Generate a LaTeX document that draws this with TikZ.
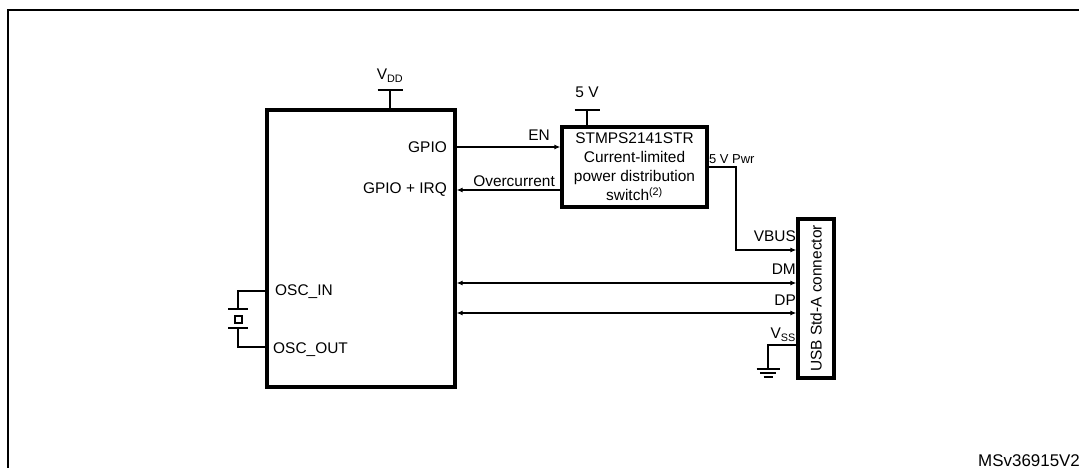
\documentclass[tikz,border=0pt]{standalone}
\usepackage{fontspec}
\setmainfont{Liberation Sans}
\usetikzlibrary{arrows.meta}
\begin{document}
\begin{tikzpicture}[x=1bp,y=-1bp,
  box/.style={draw, line width=3.2bp, inner sep=0pt},
  wire/.style={line width=1.4bp},
  arr/.style={wire,-{Latex[length=6bp,width=5bp]}},
  darr/.style={wire,{Latex[length=6bp,width=5bp]}-{Latex[length=6bp,width=5bp]}},
  lbl/.style={inner sep=0pt, font=\fontsize{15.5}{19}\selectfont},
  smalllbl/.style={inner sep=0pt, font=\fontsize{13}{15}\selectfont}]
\useasboundingbox (0,0) rectangle (1079,468);
\clip (0,0) rectangle (1079,468);
% frame
\draw[line width=2.4bp] (8,10) rectangle (1100,500);
% blocks
\node[box, minimum width=188bp, minimum height=277bp] (mcu) at (361,248.5) {};
\node[box, lbl, minimum width=145bp, minimum height=80bp, align=center] (sw) at (634.5,167)
  {STMPS2141STR\\Current-limited\\power distribution\\switch\textsuperscript{(2)}};
\node[box, minimum width=36bp, minimum height=159bp] (usb) at (816,298.5) {};
\node[lbl, rotate=90] (usbl) at (usb.center) {USB Std-A connector};
% row coordinates
\coordinate (yen) at (0,147);
\coordinate (yoc) at (0,190);
\coordinate (ypwr) at (0,167);
\coordinate (ybus) at (0,250);
\coordinate (ydm) at (0,283);
\coordinate (ydp) at (0,313);
\coordinate (yss) at (0,345);
\coordinate (yosi) at (0,291);
\coordinate (yoso) at (0,347);
% VDD supply
\coordinate (vddtop) at (390,90);
\draw[wire] (vddtop |- mcu.north) -- (vddtop);
\draw[wire] ([xshift=-12.5bp]vddtop) -- ([xshift=12.5bp]vddtop);
\node[lbl, anchor=base] (vdd) at (390,80) {V\textsubscript{DD}};
% 5 V supply
\coordinate (fvtop) at (587,110);
\draw[wire] (fvtop |- sw.north) -- (fvtop);
\draw[wire] ([xshift=-12.5bp]fvtop) -- ([xshift=12.5bp]fvtop);
\node[lbl, anchor=base] (fv) at (587,98) {5 V};
% EN / overcurrent
\draw[arr] (mcu.east |- yen) -- (sw.west |- yen);
\draw[arr] (sw.west |- yoc) -- (mcu.east |- yoc);
\node[lbl, anchor=base east] (gpio) at (447,153) {GPIO};
\node[lbl, anchor=base east] (gpioirq) at (447,194) {GPIO + IRQ};
\node[lbl, anchor=base east] (en) at (550,141) {EN};
\node[lbl, anchor=base east] (oc) at (555,187) {Overcurrent};
% 5 V Pwr to VBUS
\coordinate (pwrc) at (736,167);
\coordinate (busc) at (736,250);
\draw[arr] (sw.east |- ypwr) -- (pwrc) -- (busc) -- (usb.west |- ybus);
\node[smalllbl, anchor=base west] (pwr) at (709,164) {5 V Pwr};
\node[lbl, anchor=base east] (vbus) at (796,242) {VBUS};
% DM / DP
\draw[darr] (mcu.east |- ydm) -- (usb.west |- ydm);
\draw[darr] (mcu.east |- ydp) -- (usb.west |- ydp);
\node[lbl, anchor=base east] (dm) at (796,275) {DM};
\node[lbl, anchor=base east] (dp) at (796,306) {DP};
% VSS / ground
\coordinate (gndc) at (768,345);
\coordinate (gnd) at (768,369);
\draw[wire] (usb.west |- yss) -- (gndc) -- (gnd);
\draw[wire] ([xshift=-11.5bp]gnd) -- ([xshift=11.5bp]gnd);
\draw[wire] ([xshift=-8bp,yshift=-4bp]gnd) -- ([xshift=8bp,yshift=-4bp]gnd);
\draw[wire] ([xshift=-4.5bp,yshift=-8bp]gnd) -- ([xshift=4.5bp,yshift=-8bp]gnd);
\node[lbl, anchor=base east] (vss) at (796,339) {V\textsubscript{SS}};
% crystal
\coordinate (xa) at (238,291);
\coordinate (xb) at (238,309);
\coordinate (xc) at (238,328);
\coordinate (xd) at (238,347);
\draw[wire] (mcu.west |- yosi) -- (xa) -- (xb);
\draw[wire] ([xshift=-10bp]xb) -- ([xshift=10bp]xb);
\draw[wire] (235,316) rectangle (242,323);
\draw[wire] ([xshift=-10bp]xc) -- ([xshift=10bp]xc);
\draw[wire] (xc) -- (xd) -- (mcu.west |- yoso);
\node[lbl, anchor=base west] (oscin) at (275,296) {OSC\_IN};
\node[lbl, anchor=base west] (oscout) at (273,354) {OSC\_OUT};
% figure id
\node[lbl, anchor=base west, font=\fontsize{17}{20}\selectfont] (msv) at (978,466) {MSv36915V2};
\end{tikzpicture}
\end{document}
